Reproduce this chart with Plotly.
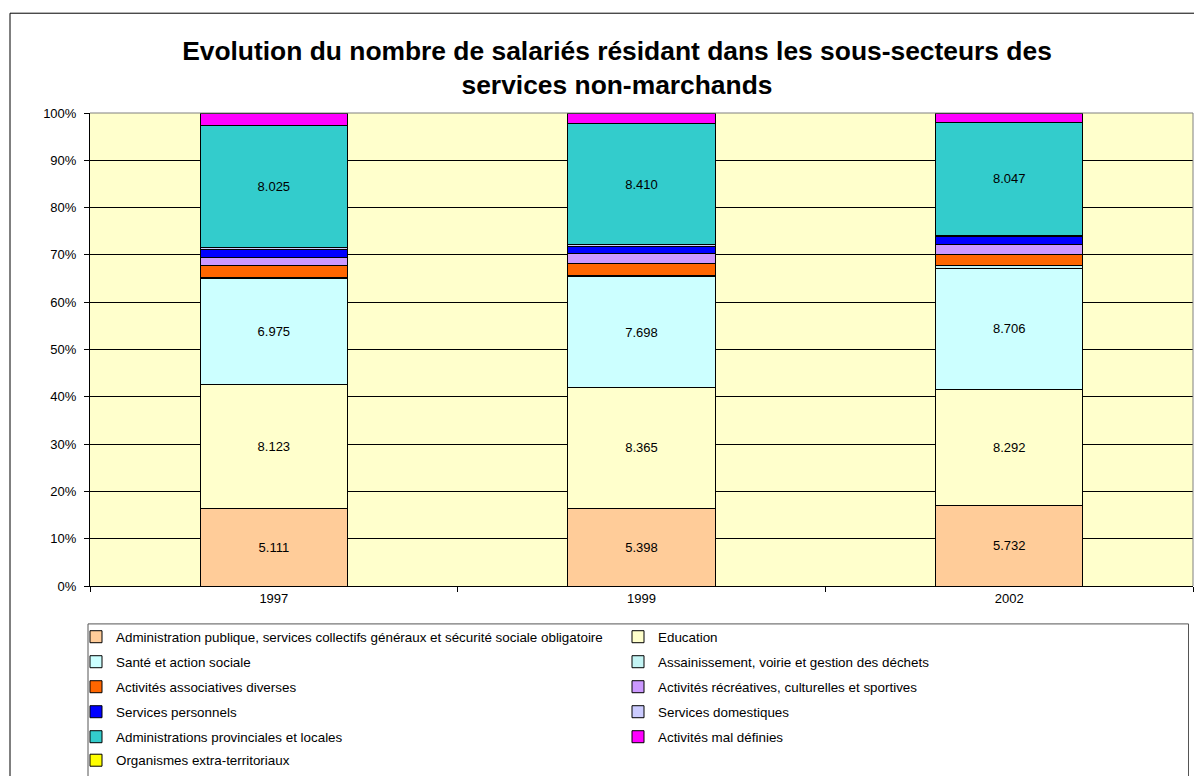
import plotly.graph_objects as go

categories = ["1997", "1999", "2002"]

series_names = [
    "Administration publique, services collectifs généraux et sécurité sociale obligatoire",
    "Education",
    "Santé et action sociale",
    "Assainissement, voirie et gestion des déchets",
    "Activités associatives diverses",
    "Activités récréatives, culturelles et sportives",
    "Services personnels",
    "Services domestiques",
    "Administrations provinciales et locales",
    "Activités mal définies",
    "Organismes extra-territoriaux",
]

admin_publique = [5111, 5398, 5732]
education = [8123, 8365, 8292]
sante = [6975, 7698, 8706]
assainissement = [90, 100, 195]
associatives = [765, 832, 792]
recreatives = [550, 672, 720]
personnels = [530, 465, 527]
domestiques = [155, 140, 120]
provinciales = [8025, 8410, 8047]
mal_definies = [780, 695, 648]
extra_territoriaux = [30, 30, 40]

series_values = [admin_publique, education, sante, assainissement, associatives,
                 recreatives, personnels, domestiques, provinciales, mal_definies,
                 extra_territoriaux]
colors = ["#FFCC99", "#FFFFCC", "#CCFFFF", "#C4F4F4", "#FF6600", "#CC99FF",
          "#0000FF", "#CCCCFF", "#33CCCC", "#FF00FF", "#FFFF00"]
labelled = {0, 1, 2, 8}
legend_rows = ["legend", "legend", "legend2", "legend2", "legend3", "legend3",
               "legend4", "legend4", "legend5", "legend5", "legend6"]

FONT = "Arial, Liberation Sans, sans-serif"

def fmt(v):
    return f"{v:,}".replace(",", ".")

fig = go.Figure()
for i, (name, vals) in enumerate(zip(series_names, series_values)):
    fig.add_trace(go.Bar(
        x=categories, y=vals, name=name,
        marker=dict(color=colors[i], line=dict(color="black", width=1)),
        text=[fmt(v) for v in vals] if i in labelled else None,
        textposition="inside" if i in labelled else "none",
        insidetextanchor="middle",
        textangle=0,
        textfont=dict(family=FONT, size=13, color="black"),
        legend=legend_rows[i],
        hoverinfo="name+y",
    ))

W, H = 1194, 776
# plot area in page pixels: x 90..1193, y 113..587
L, R = 90, W - 1193
T, B = 113, H - 587
pw, ph = W - L - R, H - T - B

def px_x(x):  # page px -> paper
    return (x - L) / pw

def px_y(y):
    return (H - B - y) / ph

leg_common = dict(orientation="h", xanchor="left", yanchor="middle",
                  font=dict(family=FONT, size=13.4, color="black"),
                  bgcolor="rgba(0,0,0,0)", borderwidth=0,
                  entrywidth=497, entrywidthmode="pixels", traceorder="normal")
row_y = [637, 662, 687, 712, 737, 761]
legends = {}
for k, yy in enumerate(row_y):
    key = "legend" if k == 0 else f"legend{k+1}"
    legends[key] = dict(leg_common, x=px_x(76), y=px_y(yy))

fig.update_layout(
    width=W, height=H,
    margin=dict(l=L, r=R, t=T, b=B, pad=0),
    paper_bgcolor="white",
    plot_bgcolor="#FFFFCC",
    barmode="stack", barnorm="percent", bargap=0.6,
    font=dict(family=FONT, size=13, color="black"),
    title=dict(text="Evolution du nombre de salariés résidant dans les sous-secteurs des<br>services non-marchands",
               font=dict(family=FONT, size=26.4, color="black", weight="bold"),
               x=px_x(617), xanchor="center", xref="paper",
               y=1 - 60 / H, yanchor="top", yref="container"),
    xaxis=dict(type="category", tickson="boundaries", ticks="outside", ticklen=5,
               tickcolor="black", showline=True, linecolor="black", linewidth=1,
               showgrid=False, tickfont=dict(family=FONT, size=13, color="black")),
    yaxis=dict(range=[0, 100], dtick=10, ticksuffix="%", ticks="outside", ticklen=5,
               tickcolor="black", showline=True, linecolor="black", linewidth=1,
               showgrid=True, gridcolor="black", gridwidth=1, zeroline=False,
               ticklabelstandoff=5,
               tickfont=dict(family=FONT, size=13, color="black")),
    showlegend=True,
    **legends,
    shapes=[
        dict(type="rect", xref="paper", yref="paper", x0=px_x(10), x1=px_x(1230),
             y0=px_y(13), y1=px_y(820), line=dict(color="black", width=1),
             fillcolor="rgba(0,0,0,0)", layer="above"),
        dict(type="rect", xref="paper", yref="paper", x0=px_x(88), x1=px_x(1188.5),
             y0=px_y(625), y1=px_y(800), line=dict(color="#555555", width=1),
             fillcolor="rgba(0,0,0,0)", layer="above"),
        dict(type="line", xref="paper", yref="paper", x0=1, x1=1, y0=0, y1=1,
             line=dict(color="#808080", width=1)),
        dict(type="line", xref="paper", yref="paper", x0=0, x1=1, y0=1, y1=1,
             line=dict(color="#808080", width=1)),
    ],
)

fig.write_html(
    "out.html",
    config={"displayModeBar": False},
    post_script="document.body.style.margin='0';document.body.style.overflow='hidden';",
)
